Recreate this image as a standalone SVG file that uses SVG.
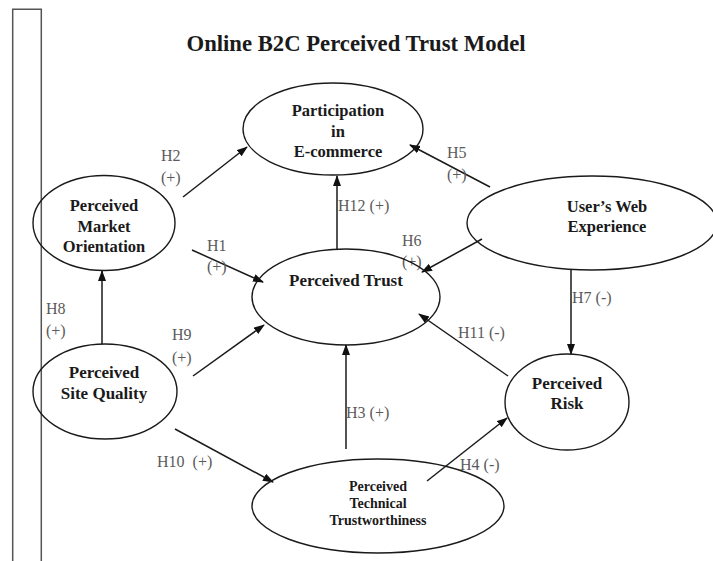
<svg xmlns="http://www.w3.org/2000/svg" width="713" height="561" viewBox="0 0 713 561">
<defs>
<marker id="arr" markerWidth="11" markerHeight="9" refX="10" refY="4" orient="auto" markerUnits="userSpaceOnUse">
<path d="M0,0 L11,4 L0,8 z" fill="#111"/>
</marker>
<style>
.node ellipse{fill:none;stroke:#1a1a1a;stroke-width:1.4}
.nt{font-family:"Liberation Serif","Times New Roman",serif;font-weight:bold;fill:#1a1a1a;text-anchor:middle}
.lbl{font-family:"Liberation Serif","Times New Roman",serif;font-size:16px;fill:#5a5a5a}
.edges line{stroke:#1a1a1a;stroke-width:1.5;marker-end:url(#arr)}
.title{font-family:"Liberation Serif","Times New Roman",serif;font-weight:bold;font-size:22.7px;fill:#1a1a1a;text-anchor:middle}
</style>
</defs>
<rect width="713" height="561" fill="#fff"/>
<path d="M12.7,561 V9.3 H41.3 V561" fill="none" stroke="#555" stroke-width="1.5"/>
<text class="title" x="356" y="51">Online B2C Perceived Trust Model</text>

<g class="edges">
<line x1="183" y1="197" x2="247" y2="147"/>
<line x1="490" y1="187" x2="410" y2="145"/>
<line x1="337" y1="249" x2="337" y2="176"/>
<line x1="192" y1="250" x2="263" y2="282"/>
<line x1="482" y1="239" x2="422" y2="272"/>
<line x1="571" y1="270" x2="571" y2="354"/>
<line x1="102" y1="344" x2="102" y2="271"/>
<line x1="193" y1="376" x2="264" y2="325"/>
<line x1="508" y1="376" x2="419" y2="314"/>
<line x1="346" y1="449" x2="346" y2="345"/>
<line x1="175" y1="429" x2="273" y2="482"/>
<line x1="427" y1="481" x2="507" y2="418"/>
</g>

<g id="labels">
<text class="lbl" x="161" y="161">H2</text>
<text class="lbl" x="161" y="183">(+)</text>
<text class="lbl" x="447" y="158">H5</text>
<text class="lbl" x="447" y="180">(+)</text>
<text class="lbl" x="338" y="211">H12 (+)</text>
<text class="lbl" x="207" y="251">H1</text>
<text class="lbl" x="207" y="272">(+)</text>
<text class="lbl" x="402" y="246">H6</text>
<text class="lbl" x="402" y="267">(+)</text>
<text class="lbl" x="572" y="303">H7 (-)</text>
<text class="lbl" x="46" y="314">H8</text>
<text class="lbl" x="46" y="336">(+)</text>
<text class="lbl" x="172" y="340">H9</text>
<text class="lbl" x="172" y="363">(+)</text>
<text class="lbl" x="458" y="338">H11 (-)</text>
<text class="lbl" x="346" y="418">H3 (+)</text>
<text class="lbl" x="157" y="467" xml:space="preserve">H10  (+)</text>
<text class="lbl" x="460" y="470">H4 (-)</text>
</g>

<g id="participation" class="node">
<ellipse cx="333" cy="129" rx="90" ry="46"/>
<text class="nt" font-size="16.5" x="338" y="116">Participation</text>
<text class="nt" font-size="16.5" x="338" y="137">in</text>
<text class="nt" font-size="16.5" x="338" y="157">E-commerce</text>
</g>
<g id="market" class="node">
<ellipse cx="104" cy="223" rx="71" ry="47.5"/>
<text class="nt" font-size="16.5" x="104" y="211">Perceived</text>
<text class="nt" font-size="16.5" x="104" y="232">Market</text>
<text class="nt" font-size="16.5" x="104" y="252">Orientation</text>
</g>
<g id="webexp" class="node">
<ellipse cx="592" cy="223" rx="125" ry="47"/>
<text class="nt" font-size="16.5" x="607" y="212">User’s Web</text>
<text class="nt" font-size="16.5" x="607" y="232">Experience</text>
</g>
<g id="trust" class="node">
<ellipse cx="346" cy="297" rx="94" ry="48"/>
<text class="nt" font-size="17" x="346" y="286">Perceived Trust</text>
</g>
<g id="sitequality" class="node">
<ellipse cx="105" cy="391.5" rx="72" ry="47.5"/>
<text class="nt" font-size="17" x="104" y="378">Perceived</text>
<text class="nt" font-size="17" x="104" y="399">Site Quality</text>
</g>
<g id="risk" class="node">
<ellipse cx="567" cy="402" rx="62" ry="48"/>
<text class="nt" font-size="17" x="567" y="389">Perceived</text>
<text class="nt" font-size="17" x="567" y="409">Risk</text>
</g>
<g id="technical" class="node">
<ellipse cx="378" cy="506" rx="126" ry="47"/>
<text class="nt" font-size="14" x="378" y="491">Perceived</text>
<text class="nt" font-size="14" x="378" y="508">Technical</text>
<text class="nt" font-size="14" x="378" y="525">Trustworthiness</text>
</g>
</svg>
